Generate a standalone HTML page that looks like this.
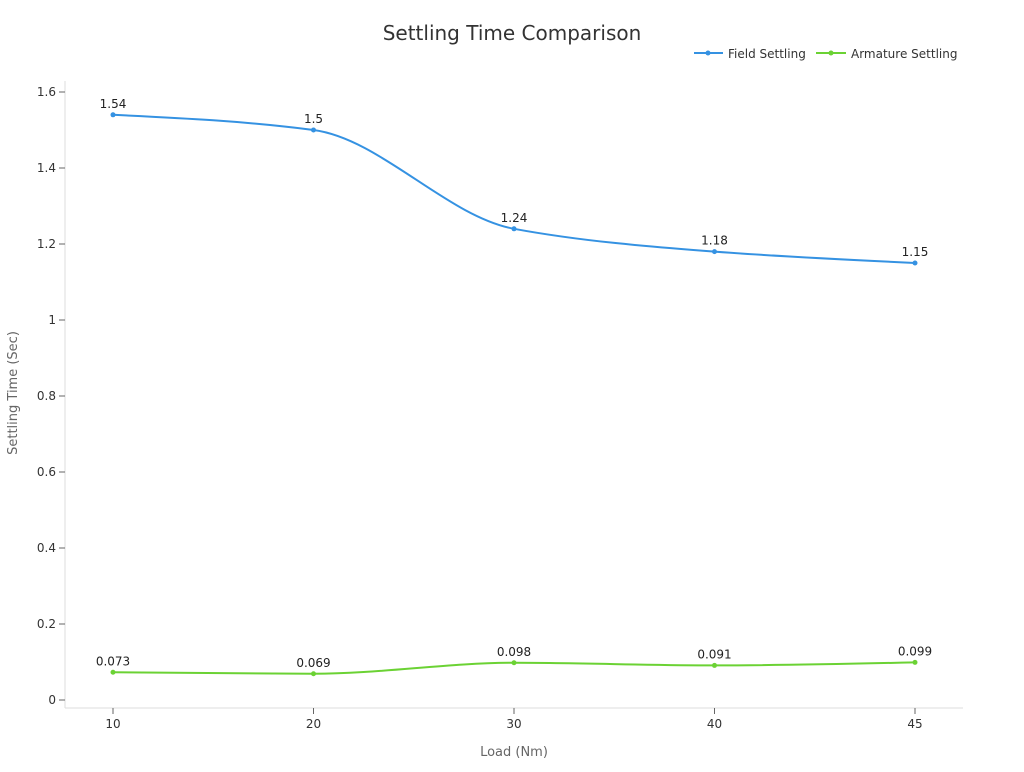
<!DOCTYPE html>
<html><head><meta charset="utf-8"><style>
body{margin:0;background:#fff;font-family:"DejaVu Sans","Liberation Sans",sans-serif;}
</style></head><body>
<svg id="chart" width="1024" height="768" xmlns="http://www.w3.org/2000/svg" font-family="DejaVu Sans, Liberation Sans, sans-serif">
<text x="512" y="40" text-anchor="middle" font-size="20" fill="#333">Settling Time Comparison</text>
<g>
<g><line x1="694" y1="53" x2="723" y2="53" stroke="#3592e2" stroke-width="2"/><circle cx="708" cy="53" r="2.5" fill="#3592e2"/><text x="728" y="58" font-size="12" fill="#333">Field Settling</text></g>
<g><line x1="816" y1="53" x2="846" y2="53" stroke="#6bd234" stroke-width="2"/><circle cx="831" cy="53" r="2.5" fill="#6bd234"/><text x="851" y="58" font-size="12" fill="#333">Armature Settling</text></g>
</g>
<g id="axes"></g>
<g id="series"></g>
<text transform="translate(17,393) rotate(-90)" text-anchor="middle" font-size="13" fill="#666">Settling Time (Sec)</text>
<text x="514" y="756" text-anchor="middle" font-size="13" fill="#666">Load (Nm)</text>
</svg>
<script>
const categories = ["10","20","30","40","45"];
const fieldValues = [1.54,1.5,1.24,1.18,1.15];
const armatureValues = [0.073,0.069,0.098,0.091,0.099];
const yTicks = [0,0.2,0.4,0.6,0.8,1,1.2,1.4,1.6];
const NS="http://www.w3.org/2000/svg";
function xS(i){return 113+i*200.5;}
function yS(v){return 700-v*380;}
function mk(tag,attrs,parent){const e=document.createElementNS(NS,tag);for(const k in attrs)e.setAttribute(k,attrs[k]);parent.appendChild(e);return e;}
const axes=document.getElementById('axes');
const yl=mk('line',{x1:65,y1:81,x2:65,y2:708,stroke:'#ddd'},axes);


const xl=mk('line',{x1:65,y1:708,x2:963,y2:708,stroke:'#ddd'},axes);


yTicks.forEach(t=>{
  mk('line',{x1:59,y1:yS(t),x2:65,y2:yS(t),stroke:'#666'},axes);
  const tx=mk('text',{x:56,y:yS(t)+4,'text-anchor':'end','font-size':12,fill:'#333'},axes);
  tx.textContent=String(t);
  
  
});
categories.forEach((c,i)=>{
  mk('line',{x1:xS(i),y1:708,x2:xS(i),y2:714,stroke:'#666'},axes);
  const tx=mk('text',{x:xS(i),y:728,'text-anchor':'middle','font-size':12,fill:'#333'},axes);
  tx.textContent=c;
  
  
});
function monotone(pts){
  const n=pts.length,d=[],m=[];
  for(let i=0;i<n-1;i++)d.push((pts[i+1][1]-pts[i][1])/(pts[i+1][0]-pts[i][0]));
  for(let i=1;i<n-1;i++){m[i]=(d[i-1]*d[i]<=0)?0:(2*d[i-1]*d[i]/(d[i-1]+d[i]));}
  m[0]=(3*d[0]-m[1])/2;m[n-1]=(3*d[n-2]-m[n-2])/2;
  let s=`M${pts[0][0]},${pts[0][1]}`;
  for(let i=0;i<n-1;i++){const h=(pts[i+1][0]-pts[i][0])/3;
    s+=` C${pts[i][0]+h},${pts[i][1]+m[i]*h} ${pts[i+1][0]-h},${pts[i+1][1]-m[i+1]*h} ${pts[i+1][0]},${pts[i+1][1]}`;}
  return s;
}
const series=document.getElementById('series');
function draw(vals,color,name){
  const g=mk('g',{},series);
  
  
  const pts=vals.map((v,i)=>[xS(i),yS(v)]);
  mk('path',{d:monotone(pts),fill:'none',stroke:color,'stroke-width':2},g);
  vals.forEach((v,i)=>{
    const c=mk('circle',{cx:xS(i),cy:yS(v),r:2.5,fill:color},g);
    
    
    const t=mk('text',{x:xS(i),y:yS(v)-7,'text-anchor':'middle','font-size':12,fill:'#222'},g);
    t.textContent=String(v);
    
    
  });
}
draw(fieldValues,'#3592e2','field-settling-series');
draw(armatureValues,'#6bd234','armature-settling-series');
</script>
</body></html>
